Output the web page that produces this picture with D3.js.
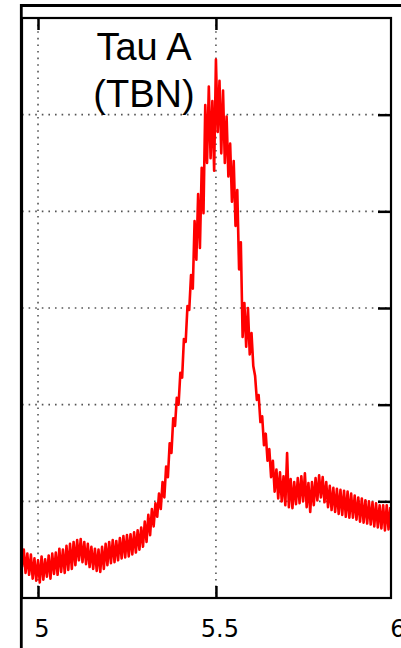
<!DOCTYPE html>
<html>
<head>
<meta charset="utf-8">
<script src="https://cdn.jsdelivr.net/npm/d3@7"></script>
<style>
  body { margin: 0; background: #fff; }
  svg { display: block; }
</style>
</head>
<body>
<div class="chart"></div>
<script>
// wavelength grid of the scan (uniform sampling)
const waveStart = 4.955;
const waveStep = 0.005;

// intensity, one value per sample
const intensity = [
  3.2, 5.0, 2.6, 4.6, 2.4, 4.5, 2.0, 4.1, 1.8, 3.9,
  1.6, 4.3, 1.9, 4.0, 2.2, 4.4, 2.0, 4.6, 2.5, 4.7,
  2.4, 5.1, 2.7, 5.0, 2.6, 5.4, 2.9, 5.6, 3.0, 5.8,
  3.4, 6.0, 3.9, 6.1, 3.7, 5.8, 3.5, 5.6, 3.2, 5.3,
  3.0, 5.1, 2.8, 5.0, 2.7, 5.3, 3.0, 5.6, 3.4, 5.8,
  3.6, 6.0, 3.7, 5.9, 3.9, 6.2, 4.1, 6.4, 4.2, 6.5,
  4.3, 6.6, 4.5, 6.8, 4.7, 7.0, 5.0, 7.3, 5.3, 7.9,
  5.8, 8.6, 6.5, 9.2, 7.4, 9.8, 8.4, 10.8, 9.2, 12.0,
  10.4, 13.6, 12.5, 16.0, 15.0, 18.6, 17.8, 20.7, 20.0, 23.3,
  22.8, 26.8, 26.5, 30.2, 29.8, 33.4, 32.0, 39.0, 35.0, 41.8,
  36.2, 44.5, 39.8, 51.0, 45.0, 52.9, 45.5, 51.4, 44.2, 55.7,
  48.2, 53.5, 46.0, 52.5, 45.0, 49.8, 43.6, 47.0, 41.0, 45.2,
  38.5, 42.2, 34.0, 36.8, 27.0, 30.5, 26.0, 30.0, 25.2, 27.4,
  24.0, 23.0, 20.5, 21.0, 18.2, 18.8, 15.8, 17.0, 14.2, 15.4,
  12.5, 14.2, 11.0, 13.3, 10.3, 13.0, 10.0, 12.6, 9.6, 15.0,
  9.4, 12.3, 9.3, 12.0, 9.7, 12.4, 9.8, 12.6, 10.0, 12.9,
  9.4, 11.9, 8.9, 12.0, 9.6, 12.4, 10.1, 12.7, 10.4, 12.5,
  9.9, 12.0, 9.4, 11.6, 9.1, 11.4, 8.9, 11.3, 8.7, 11.2,
  8.6, 11.1, 8.4, 11.0, 8.3, 10.8, 8.3, 10.6, 8.1, 10.4,
  7.9, 10.3, 7.8, 10.1, 7.7, 10.0, 7.6, 9.9, 7.4, 9.8,
  7.3, 9.6, 7.2, 9.6, 7.0, 9.6, 7.1, 9.4
];

const xTicks = [5, 5.5];
const xTickLabels = [5, 5.5, 6];
const yGrid = [10, 20, 30, 40, 50];
const titleLines = ["Tau A", "(TBN)"];

const width = 401;
const height = 648;
const plotLeft = 22, plotRight = 391, plotTop = 18, plotBottom = 598;

const data = intensity.map((v, i) => ({ x: waveStart + i * waveStep, y: v }));

const x = d3.scaleLinear().domain([4.955, 5.992]).range([plotLeft, plotRight]);
const y = d3.scaleLinear().domain([0, 60]).range([plotBottom, plotTop]);

const svg = d3.select(".chart").append("svg")
  .attr("width", width)
  .attr("height", height);

svg.append("rect").attr("width", width).attr("height", height).attr("fill", "#fff");

svg.append("clipPath").attr("id", "plot")
  .append("rect")
  .attr("x", plotLeft).attr("y", plotTop)
  .attr("width", plotRight - plotLeft).attr("height", plotBottom - plotTop);

// dotted grid
const grid = svg.append("g")
  .attr("stroke", "#555")
  .attr("stroke-width", 1.6)
  .attr("stroke-dasharray", "1.6,5");

grid.selectAll(".vgrid")
  .data(xTicks)
  .enter().append("line")
  .attr("x1", d => x(d)).attr("x2", d => x(d))
  .attr("y1", plotTop).attr("y2", plotBottom);

grid.selectAll(".hgrid")
  .data(yGrid)
  .enter().append("line")
  .attr("x1", plotLeft).attr("x2", plotRight)
  .attr("y1", d => y(d)).attr("y2", d => y(d));

// the trace
const line = d3.line()
  .x(d => x(d.x))
  .y(d => y(d.y));

svg.append("path")
  .datum(data)
  .attr("clip-path", "url(#plot)")
  .attr("fill", "none")
  .attr("stroke", "#ff0000")
  .attr("stroke-width", 2.6)
  .attr("stroke-linejoin", "round")
  .attr("d", line);

// title
svg.append("text")
  .attr("x", 144)
  .attr("text-anchor", "middle")
  .style("font-family", "'Liberation Sans', Arial, sans-serif")
  .style("font-size", "38px")
  .attr("fill", "#000")
  .selectAll("tspan")
  .data(titleLines)
  .enter().append("tspan")
  .attr("x", 144)
  .attr("y", (d, i) => 60 + i * 47)
  .text(d => d);

// inward ticks
const tickStyle = g => {
  g.select(".domain").remove();
  g.selectAll(".tick line").attr("stroke", "#000").attr("stroke-width", 2.5);
};

svg.append("g")
  .attr("transform", `translate(0,${plotBottom})`)
  .call(d3.axisBottom(x).tickValues(xTicks).tickSize(-12).tickFormat(""))
  .call(tickStyle);

svg.append("g")
  .attr("transform", `translate(0,${plotTop})`)
  .call(d3.axisTop(x).tickValues(xTicks).tickSize(-12).tickFormat(""))
  .call(tickStyle);

svg.append("g")
  .attr("transform", `translate(${plotRight},0)`)
  .call(d3.axisRight(y).tickValues(yGrid).tickSize(-13).tickFormat(""))
  .call(tickStyle);

// tick labels
const labels = svg.append("g")
  .attr("transform", `translate(0,${plotBottom})`)
  .call(d3.axisBottom(x).tickValues(xTickLabels).tickSize(0).tickPadding(22).tickFormat(d3.format("")));
labels.select(".domain").remove();
labels.selectAll("text")
  .attr("dx", 3.5)
  .attr("fill", "#000")
  .style("font-family", "'DejaVu Sans', sans-serif")
  .style("font-size", "24px");

// plot box and outer frame
svg.append("rect")
  .attr("x", plotLeft).attr("y", plotTop)
  .attr("width", plotRight - plotLeft).attr("height", plotBottom - plotTop)
  .attr("fill", "none")
  .attr("stroke", "#000")
  .attr("stroke-width", 2.2);

svg.append("path")
  .attr("d", `M${width},5.5H21.3V${height}`)
  .attr("fill", "none")
  .attr("stroke", "#000")
  .attr("stroke-width", 2.8);
</script>
</body>
</html>
